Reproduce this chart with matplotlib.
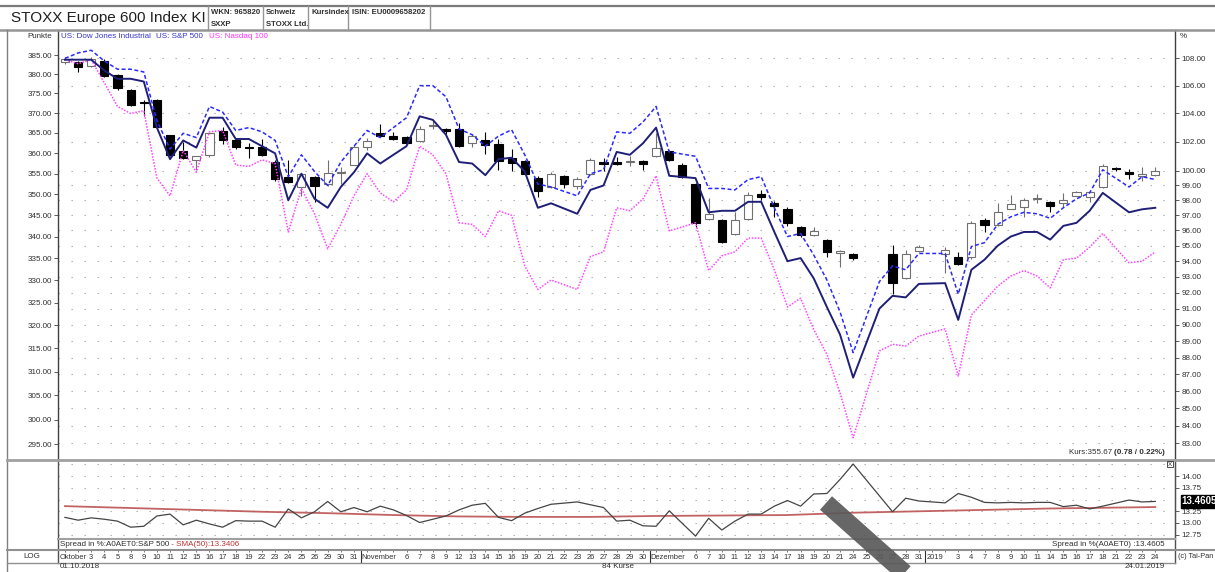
import matplotlib
matplotlib.use("Agg")
import matplotlib.pyplot as plt
from matplotlib.lines import Line2D
from matplotlib.ticker import FixedLocator, FixedFormatter, NullLocator, NullFormatter
from matplotlib.transforms import blended_transform_factory

plt.rcParams['font.family'] = ['Liberation Sans', 'DejaVu Sans']

# --- Daten ---
date_labels = (
    ["Oktober", "", "3", "4", "5", "8", "9", "10", "11", "12", "15", "16", "17", "18", "19",
     "22", "23", "24", "25", "26", "29", "30", "31"]
    + ["November", "", "", "6", "7", "8", "9", "12", "13", "14", "15", "16", "19", "20", "21",
       "22", "23", "26", "27", "28", "29", "30"]
    + ["Dezember", "", "", "6", "7", "10", "11", "12", "13", "14", "17", "18", "19", "20", "21",
       "24", "25", "26", "27", "28", "31"]
    + ["2019", "", "3", "4", "7", "8", "9", "10", "11", "14", "15", "16", "17", "18", "21",
       "22", "23", "24"]
)
month_names = ["Oktober", "November", "Dezember", "2019"]

N = None
opens = [383.2, 383.2, 382.1, 383.5, 379.7, 376.0, 372.8, 373.3, 364.4, 360.6,
         358.4, 359.6, 365.4, 363.2, 361.5, 361.5, 357.9, 354.2, 351.7, 354.1,
         352.4, 355.2, 357.1, 361.5, 364.9, 364.3, 364.0, 363.0, 366.7, 366.0,
         366.1, 362.4, 363.2, 362.2, 358.7, 358.0, 354.0, 351.8, 354.4, 352.0,
         354.9, 357.9, 357.9, 357.8, 358.0, 359.3, 360.5, 357.2, 352.4, 344.1,
         343.9, 340.6, 344.2, 350.0, 348.0, 346.6, 342.3, 340.3, 339.2, 336.1,
         336.0, N, N, 336.0, 330.4, 336.7, N, 336.0, 335.4, 335.4,
         343.9, 342.7, 346.6, 347.0, 348.9, 348.2, 348.0, 349.7, 349.4, 351.8,
         356.3, 355.4, 354.5, 354.6]
highs = [384.5, 383.5, 384.6, 383.9, 380.0, 376.2, 373.3, 373.5, 364.6, 362.8,
         359.4, 365.0, 366.6, 363.5, 362.6, 363.6, 358.2, 358.2, 355.2, 354.4,
         358.2, 356.5, 362.0, 363.8, 367.3, 365.3, 364.3, 366.8, 368.2, 366.2,
         367.6, 364.6, 365.3, 363.6, 361.0, 358.3, 354.3, 355.3, 354.7, 354.1,
         358.7, 358.7, 359.1, 359.3, 358.2, 364.9, 360.8, 357.5, 352.7, 349.0,
         344.2, 345.8, 350.6, 351.0, 348.3, 346.9, 342.6, 342.3, 339.5, 336.9,
         336.2, N, N, 338.0, 336.9, 338.0, N, 337.6, 336.5, 343.6,
         344.3, 347.8, 349.8, 349.0, 350.0, 348.5, 350.3, 350.8, 350.8, 357.3,
         356.6, 356.2, 356.5, 356.5]
lows = [382.6, 380.6, 381.8, 379.2, 376.0, 371.8, 369.2, 366.3, 359.2, 358.5,
        355.8, 359.0, 362.2, 361.0, 358.8, 359.3, 353.2, 352.7, 349.5, 348.1,
        352.0, 352.4, 357.0, 360.7, 364.0, 363.2, 362.2, 362.8, 366.0, 364.8,
        361.4, 361.6, 359.9, 355.8, 355.6, 354.8, 349.3, 351.5, 351.4, 351.2,
        354.7, 355.6, 357.0, 356.8, 355.8, 359.1, 358.0, 354.0, 342.3, 343.9,
        338.5, 340.3, 344.0, 348.6, 344.6, 342.4, 340.0, 340.1, 335.4, 333.0,
        334.6, N, N, 327.0, 330.2, 336.5, N, 331.7, 333.5, 334.8,
        341.1, 342.5, 346.4, 344.6, 347.8, 345.8, 347.0, 349.5, 348.2, 351.5,
        355.5, 353.8, 353.1, 354.3]
closes = [383.9, 381.9, 383.9, 379.6, 376.3, 372.1, 372.5, 366.6, 359.5, 358.8,
          359.2, 364.9, 363.3, 361.4, 361.3, 359.6, 353.7, 353.0, 354.9, 352.0,
          355.2, 355.4, 361.5, 363.0, 364.3, 363.5, 362.5, 366.1, 366.9, 365.4,
          361.7, 364.3, 362.0, 358.1, 357.5, 355.0, 350.8, 355.0, 352.4, 353.8,
          358.3, 357.3, 357.3, 358.0, 357.3, 361.2, 358.3, 354.2, 343.2, 345.3,
          338.8, 343.9, 349.8, 349.3, 347.2, 343.1, 340.3, 341.3, 336.5, 336.6,
          335.0, N, N, 329.4, 336.0, 337.6, N, 337.0, 333.7, 343.2,
          342.7, 345.7, 347.6, 348.7, 349.1, 347.2, 348.7, 350.5, 350.5, 356.8,
          356.1, 354.9, 354.89, 355.67]

# Vergleichskurven in % (rechte Achse)
dow_jones = [107.9, 107.9, 107.9, 107.1, 106.5, 106.5, 106.3, 103.0, 100.8, 102.1,
             101.6, 103.7, 103.7, 102.2, 102.2, 101.7, 101.2, 98.0, 99.8, 98.1,
             97.5, 98.9, 99.9, 101.2, 100.5, 101.1, 101.7, 103.8, 103.55, 102.5,
             100.6, 100.5, 99.7, 100.8, 100.9, 99.95, 97.5, 97.8, N, 97.1,
             98.7, 99.0, 101.3, 101.1, 101.9, 103.0, 99.66, N, 99.5, 97.2,
             97.3, 97.3, 97.9, 97.9, 95.9, 94.0, 94.2, 92.9, 91.1, 89.4,
             86.8, N, 91.0, 91.8, 91.7, 92.55, N, 92.6, 90.3, 93.45,
             94.1, 95.0, 95.6, 95.9, 95.9, 95.4, 96.3, 96.5, 97.3, 98.5,
             N, 97.2, 97.4, 97.5]
sp500 = [108.0, 108.4, 108.6, 107.8, 107.2, 107.2, 107.0, 103.5, 101.5, 102.6,
         102.3, 104.5, 104.1, 102.8, 103.0, 102.7, 102.1, 99.6, 101.1, 99.95,
         99.0, 100.6, 101.7, 102.8, 102.3, 103.0, 103.7, 106.0, 106.0, 105.2,
         102.9, 102.5, 101.7, 102.4, 102.85, 101.1, 99.1, 98.9, N, 98.3,
         99.8, 100.07, 102.7, 102.6, 103.4, 104.5, 101.3, N, 101.0, 98.8,
         98.8, 98.7, 99.4, 99.6, 97.5, 95.6, 95.8, 94.4, 92.8, 90.8,
         88.3, N, 92.7, 93.7, 93.45, 94.5, N, 94.5, 91.9, 94.95,
         95.2, 96.4, 96.9, 97.2, 97.1, 96.8, 97.5, 98.1, 98.5, 100.07,
         N, 98.9, 99.6, 99.4]
nasdaq100 = [107.9, 107.6, 107.9, 106.2, 104.5, 104.0, 104.2, 99.5, 98.3, 101.4,
             99.9, 102.7, 102.8, 100.4, 100.3, 100.75, 100.5, 95.9, 98.8, 97.1,
             94.8, 96.4, 98.3, 99.8, 98.5, 97.9, 98.7, 101.7, 101.1, 99.8,
             96.5, 96.4, 95.6, 97.3, 97.0, 93.7, 92.2, 92.8, N, 92.2,
             94.3, 94.6, 97.5, 97.3, 98.1, 99.66, 95.97, N, 96.5, 93.4,
             94.35, 94.6, 95.5, 95.5, 93.45, 91.1, 91.65, 89.7, 88.2, 85.9,
             83.3, N, 88.4, 88.8, 88.7, 89.3, N, 89.75, 86.9, 90.6,
             91.5, 92.4, 93.05, 93.4, 93.05, 92.3, 94.1, 94.2, 94.9, 95.8,
             N, 93.9, 94.0, 94.6]

# Spread in % (STOXX / S&P 500) und SMA(50)
spread = [13.12, 13.06, 13.11, 13.08, 13.04, 12.91, 12.93, 13.15, 13.19, 12.96,
          13.06, 12.98, 12.91, 13.05, 13.04, 13.04, 12.91, 13.30, 13.11, 13.24,
          13.46, 13.24, 13.33, 13.24, 13.36, 13.28, 13.16, 13.01, 13.08, 13.15,
          13.28, 13.38, 13.42, 13.12, 13.05, 13.21, 13.31, 13.40, N, 13.45,
          13.39, 13.33, 13.04, 13.06, 12.94, 12.93, 13.26, N, 12.72, 13.10,
          12.85, 13.04, 13.19, 13.19, 13.36, 13.48, 13.36, 13.62, 13.63, 13.93,
          14.26, N, N, 13.24, 13.53, 13.47, N, 13.43, 13.63, 13.55,
          13.44, 13.43, 13.44, 13.43, 13.44, 13.44, 13.35, 13.38, 13.30, 13.36,
          N, 13.49, 13.45, 13.4605]
sma_days = [0, 5, 10, 15, 20, 25, 30, 35, 40, 45, 50, 55, 60, 65, 70, 75, 83]
sma50 = [13.36, 13.32, 13.28, 13.24, 13.21, 13.17, 13.14, 13.13, 13.13, 13.15,
         13.16, 13.17, 13.22, 13.25, 13.28, 13.31, 13.3406]

left_ticks = [295, 300, 305, 310, 315, 320, 325, 330, 335, 340, 345, 350, 355,
              360, 365, 370, 375, 380, 385]
right_ticks = [83, 84, 85, 86, 87, 88, 89, 90, 91, 92, 93, 94, 95, 96, 97, 98, 99,
               100, 102, 104, 106, 108]
spread_ticks = [12.75, 13.00, 13.25, 13.75, 14.00]
spread_grid = [12.75, 13.00, 13.25, 13.50, 13.75, 14.00, 14.25]

# --- Layout-Helfer (Pixel -> Figure) ---
W, H = 1215, 572
def fx(x):
    return x / W
def fy(y):
    return 1 - y / H
def box(x0, y0, x1, y1):
    return [fx(x0), fy(y1), fx(x1) - fx(x0), fy(y0) - fy(y1)]
def hline(y, x0, x1, color='#909090', lw=1.0):
    fig.add_artist(Line2D([fx(x0), fx(x1)], [fy(y), fy(y)], color=color, lw=lw))
def vline(x, y0, y1, color='#909090', lw=1.0):
    fig.add_artist(Line2D([fx(x), fx(x)], [fy(y0), fy(y1)], color=color, lw=lw))

FS = 5.8
DFS = 5.4
TXT = '#303030'
XLIM = (-0.53, 84.5)
REF = closes[-1]                     # 100 % = letzter Kurs
YLIM = (291.8, 391.65)
DOTS = (1.2, 10.5)

fig = plt.figure(figsize=(12.15, 5.72), dpi=100)

# --- Hauptchart ---
ax = fig.add_axes(box(58, 30, 1175, 460))
ax.set_yscale('log')
ax.set_xlim(*XLIM)
ax.set_ylim(*YLIM)
ax.yaxis.set_major_locator(FixedLocator(left_ticks))
ax.yaxis.set_major_formatter(FixedFormatter([f"{v:.2f}" for v in left_ticks]))
ax.yaxis.set_minor_locator(NullLocator())
ax.yaxis.set_minor_formatter(NullFormatter())
ax.set_xticks([])
ax.tick_params(axis='y', direction='out', length=3, width=0.6, color='#404040',
               labelsize=FS, labelcolor=TXT, pad=1.5)
for s in ['top', 'right', 'bottom']:
    ax.spines[s].set_visible(False)
ax.spines['left'].set_color('#404040')
ax.spines['left'].set_linewidth(1.0)

for t in right_ticks:
    ax.axhline(t * REF / 100, color='#a8a8a8', lw=0.8, dashes=DOTS, zorder=0)

# Kerzen
for i in range(len(closes)):
    o, h, l, c = opens[i], highs[i], lows[i], closes[i]
    if c is None:
        continue
    up = c >= o
    edge = '#707070' if up else 'black'
    face = 'white' if up else 'black'
    ax.vlines(i, l, h, color=edge, lw=0.8, zorder=2)
    ax.bar(i, max(abs(c - o), 0.15), bottom=min(o, c), width=0.62,
           facecolor=face, edgecolor=edge, lw=0.8, zorder=3)

# rechte Achse (%)
axr = ax.twinx()
axr.set_yscale('log')
axr.set_ylim(YLIM[0] / REF * 100, YLIM[1] / REF * 100)
axr.yaxis.set_major_locator(FixedLocator(right_ticks))
axr.yaxis.set_major_formatter(FixedFormatter([f"{v:.2f}" for v in right_ticks]))
axr.yaxis.set_minor_locator(NullLocator())
axr.yaxis.set_minor_formatter(NullFormatter())
axr.tick_params(axis='y', direction='out', length=3, width=0.6, color='#404040',
                labelsize=FS, labelcolor=TXT, pad=1.5)
for s in ['top', 'left', 'bottom']:
    axr.spines[s].set_visible(False)
axr.spines['right'].set_color('#404040')
axr.spines['right'].set_linewidth(1.0)

def plot_series(axis, values, **kw):
    xs = [i for i, v in enumerate(values) if v is not None]
    ys = [v for v in values if v is not None]
    axis.plot(xs, ys, **kw)

plot_series(axr, nasdaq100, color='#ff44ff', lw=1.1, linestyle=(0, (1, 1)), zorder=4)
plot_series(axr, dow_jones, color='#1f1f78', lw=1.4, zorder=5)
plot_series(axr, sp500, color='#2a2aff', lw=1.1, linestyle=(0, (2.6, 1.6)), zorder=6)

# --- Spread-Panel ---
axs = fig.add_axes(box(58, 460, 1175, 539))
axs.set_xlim(*XLIM)
axs.set_ylim(12.658, 14.346)
axs.yaxis.tick_right()
axs.set_yticks(spread_ticks)
axs.set_yticklabels([f"{v:.2f}" for v in spread_ticks])
axs.set_xticks([])
axs.tick_params(axis='y', direction='out', length=3, width=0.6, color='#404040',
                labelsize=FS, labelcolor=TXT, pad=1.5)
for s in ['top', 'left', 'bottom']:
    axs.spines[s].set_visible(False)
axs.spines['right'].set_color('#404040')
for g in spread_grid:
    axs.axhline(g, color='#a8a8a8', lw=0.8, dashes=DOTS, zorder=0)
axs.plot(sma_days, sma50, color='#b84848', lw=1.3, alpha=0.85, zorder=2)
plot_series(axs, spread, color='#454545', lw=0.9, zorder=3)
tr = blended_transform_factory(axs.transAxes, axs.transData)
axs.text(1.006, spread[-1], f"{spread[-1]:.4f}", transform=tr, color='white',
         fontsize=7, fontweight='bold', va='center', ha='left',
         bbox=dict(boxstyle='square,pad=0.12', fc='black', ec='black'))

# --- Datumszeile ---
axd = fig.add_axes(box(58, 550, 1175, 563))
axd.set_xlim(*XLIM)
axd.set_ylim(0, 1)
axd.axis('off')
for i, lab in enumerate(date_labels):
    axd.vlines(i, 0.82, 1.0, color='#606060', lw=0.6)
    if lab in month_names:
        axd.text(i - 0.42, 0.42, lab, fontsize=DFS, color=TXT, ha='left', va='center')
        if i > 0:
            axd.vlines(i - 0.5, 0, 1, color='#303030', lw=0.8)
    elif lab:
        axd.text(i, 0.42, lab, fontsize=DFS, color=TXT, ha='center', va='center')

# --- Rahmen ---
hline(6, 0, 1215, '#7a7a7a', 1.6)
hline(30, 0, 1215, '#959595', 1.8)
for x in [208, 263, 308, 348, 430]:
    vline(x, 6, 30, '#959595', 1.0)
vline(7, 30, 572, '#808080', 1.0)
vline(58, 460, 563, '#505050', 1.0)
vline(1175, 460, 563, '#505050', 1.0)
hline(460, 7, 1215, '#a0a0a0', 2.0)
hline(539, 58, 1175, '#a0a0a0', 1.5)
hline(550, 7, 1215, '#909090', 1.5)
hline(563, 7, 1175, '#909090', 1.0)

# --- Texte ---
fig.text(fx(11), fy(18), "STOXX Europe 600 Index KI", fontsize=11, color='#202020',
         ha='left', va='center')
hdr = dict(fontsize=5.6, fontweight='bold', color='#303030', ha='left', va='center')
fig.text(fx(211), fy(12), "WKN: 965820", **hdr)
fig.text(fx(211), fy(24), "SXXP", **hdr)
fig.text(fx(266), fy(12), "Schweiz", **hdr)
fig.text(fx(266), fy(24), "STOXX Ltd.", **hdr)
fig.text(fx(311), fy(12), "Kursindex", **hdr)
fig.text(fx(352), fy(12), "ISIN: EU0009658202", **hdr)

fig.text(fx(52), fy(36), "Punkte", fontsize=FS, color=TXT, ha='right', va='center')
fig.text(fx(1180), fy(36), "%", fontsize=FS, color=TXT, ha='left', va='center')

t1 = fig.text(fx(61), fy(36), "US: Dow Jones Industrial", fontsize=FS, color='#3434c8',
              ha='left', va='center')
t2 = ax.annotate("US: S&P 500", xy=(1, 0.5), xycoords=t1, xytext=(4, 0),
                 textcoords='offset points', fontsize=FS, color='#3434c8',
                 ha='left', va='center', annotation_clip=False)
ax.annotate("US: Nasdaq 100", xy=(1, 0.5), xycoords=t2, xytext=(4, 0),
            textcoords='offset points', fontsize=FS, color='#ff33ff',
            ha='left', va='center', annotation_clip=False)

diff = closes[-1] - closes[-2]
k2 = fig.text(fx(1165), fy(453), f"({diff:.2f} / {diff / closes[-2] * 100:.2f}%)",
              fontsize=FS, fontweight='bold', color=TXT, ha='right', va='center')
ax.annotate(f"Kurs:{closes[-1]:.2f} ", xy=(0, 0.5), xycoords=k2, fontsize=FS,
            color=TXT, ha='right', va='center', annotation_clip=False)

fig.text(fx(1170), fy(464), "X", fontsize=4.5, color='#202020', ha='center', va='center',
         bbox=dict(boxstyle='square,pad=0.15', fc='white', ec='#303030', lw=0.6))

s1 = fig.text(fx(60), fy(545), "Spread in %:A0AET0:S&P 500", fontsize=FS, color=TXT,
              ha='left', va='center')
ax.annotate(f" - SMA(50):{sma50[-1]:.4f}", xy=(1, 0.5), xycoords=s1, fontsize=FS,
            color='#c03030', ha='left', va='center', annotation_clip=False)
fig.text(fx(1165), fy(545), f"Spread in %(A0AET0) :{spread[-1]:.4f}", fontsize=FS,
         color=TXT, ha='right', va='center')

fig.text(fx(32), fy(556), "LOG", fontsize=FS, color=TXT, ha='center', va='center')
fig.text(fx(1178), fy(556), "(c) Tai-Pan", fontsize=5.3, color=TXT, ha='left', va='center')
fig.text(fx(60), fy(567), "01.10.2018", fontsize=FS, color=TXT, ha='left', va='center')
fig.text(fx(618), fy(567), f"{len(date_labels)} Kurse", fontsize=FS, color=TXT,
         ha='center', va='center')
fig.text(fx(1165), fy(567), "24.01.2019", fontsize=FS, color=TXT, ha='right', va='center')

# grauer Strich (Markierung im Original)
fig.add_artist(Line2D([fx(826), fx(908)], [fy(503), fy(576)], color='#5a5a5a',
                      lw=13, alpha=0.92, solid_capstyle='butt'))

fig.savefig('out.png', dpi=100)
